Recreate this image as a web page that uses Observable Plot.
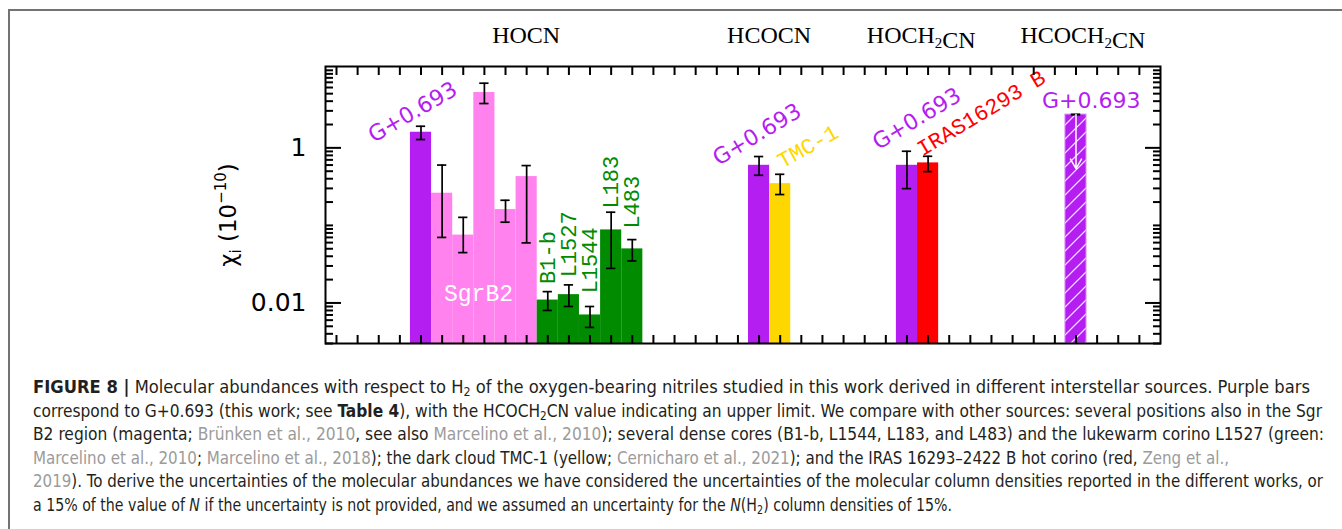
<!DOCTYPE html>
<html><head><meta charset="utf-8">
<script src="https://cdn.jsdelivr.net/npm/d3@7"></script>
<script src="https://cdn.jsdelivr.net/npm/@observablehq/plot@0.6"></script>
<style>
body{margin:0;background:#fff;}
#wrap{position:relative;width:1342px;height:529px;overflow:hidden;background:#fff;}
#border{position:absolute;left:8px;top:9px;width:1400px;height:600px;border-top:2px solid #737373;border-left:2px solid #737373;}
#chart{position:absolute;left:0;top:0;}
#caption{position:absolute;left:33px;top:376px;font-family:"Liberation Sans Narrow","Arial Narrow","DejaVu Sans Condensed","Liberation Sans",sans-serif;font-size:17px;line-height:23.5px;color:#231f20;white-space:nowrap;}
#caption .ln{display:inline-block;transform-origin:0 50%;}
#caption sub{font-size:0.68em;vertical-align:-0.22em;line-height:0;}
.ref{color:#9b9b9b;}
</style></head><body>
<div id="wrap"><div id="border"></div><div id="chart"></div>
<div id="caption">
<div><span class="ln"><b>FIGURE 8 |</b> Molecular abundances with respect to H<sub>2</sub> of the oxygen-bearing nitriles studied in this work derived in different interstellar sources. Purple bars</span></div>
<div><span class="ln">correspond to G+0.693 (this work; see <b>Table 4</b>), with the HCOCH<sub>2</sub>CN value indicating an upper limit. We compare with other sources: several positions also in the Sgr</span></div>
<div><span class="ln">B2 region (magenta; <span class="ref">Brünken et al., 2010</span>, see also <span class="ref">Marcelino et al., 2010</span>); several dense cores (B1-b, L1544, L183, and L483) and the lukewarm corino L1527 (green:</span></div>
<div><span class="ln"><span class="ref">Marcelino et al., 2010</span>; <span class="ref">Marcelino et al., 2018</span>); the dark cloud TMC-1 (yellow; <span class="ref">Cernicharo et al., 2021</span>); and the IRAS 16293–2422 B hot corino (red, <span class="ref">Zeng et al.,</span></span></div>
<div><span class="ln"><span class="ref">2019</span>). To derive the uncertainties of the molecular abundances we have considered the uncertainties of the molecular column densities reported in the different works, or</span></div>
<div><span class="ln">a 15% of the value of <i>N</i> if the uncertainty is not provided, and we assumed an uncertainty for the <i>N</i>(H<sub>2</sub>) column densities of 15%.</span></div>
</div>
</div>
<script>
// ---------------- data ----------------
const slots     = [4, 5, 6, 7, 8, 9, 10, 11, 12, 13, 14, 20, 21, 27, 28, 35];
const sources   = ["G+0.693","SgrB2","SgrB2","SgrB2","SgrB2","SgrB2","B1-b","L1527","L1544","L183","L483","G+0.693","TMC-1","G+0.693","IRAS16293 B","G+0.693"];
const groups    = ["G","S","S","S","S","S","D","D","D","D","D","G","T","G","I","G"];
const molecules = ["HOCN","HOCN","HOCN","HOCN","HOCN","HOCN","HOCN","HOCN","HOCN","HOCN","HOCN","HCOCN","HCOCN","HOCH2CN","HOCH2CN","HCOCH2CN"];
const values    = [1.59, 0.26, 0.075, 5.17, 0.160, 0.426, 0.0109, 0.0128, 0.0070, 0.0875, 0.0498, 0.596, 0.346, 0.596, 0.640, 2.69];
const errLow    = [1.28, 0.070, 0.0446, 3.73, 0.110, 0.0595, 0.0080, 0.0090, 0.00484, 0.0279, 0.0348, 0.443, 0.250, 0.298, 0.494, 2.69];
const errHigh   = [1.90, 0.60, 0.127, 6.82, 0.211, 0.591, 0.0140, 0.0171, 0.0090, 0.148, 0.0656, 0.773, 0.456, 0.904, 0.779, 2.69];
const upperLimit= [false,false,false,false,false,false,false,false,false,false,false,false,false,false,false,true];
const limitArrowTo = 0.54;

// category titles (molecule names, at their group centre slot)
const titleNames = ["HOCN","HCOCN","HOCH2CN","HCOCH2CN"];
const titleSlots = [9, 20.5, 27.7, 35.35];

// source annotations (text, slot, value where the label sits)
const labelTexts  = ["G+0.693","SgrB2","B1-b","L1527","L1544","L183","L483","G+0.693","TMC-1","G+0.693","IRAS16293 B","G+0.693"];
const labelSlots  = [3.61, 6.72, 10, 11, 12, 13, 14, 19.91, 22.31, 27.47, 30.51, 35.72];
const labelValues = [2.88, 0.0132, 0.0176, 0.0214, 0.0133, 0.165, 0.091, 1.48, 1.04, 2.36, 2.81, 4.08];
const labelGroups = ["G","W","D","D","D","D","D","G","T","G","I","G"];
const labelAngles = [-30, 0, -90, -90, -90, -90, -90, -31, -29, -31, -31, 0];

const yTickMajor = [0.01, 1];
const yTickLabels = ["0.01", "1"];

// ---------------- build ----------------
const colorOf = {G:"#b41ef0", S:"#ff82ee", D:"#008b00", T:"#ffd700", I:"#ff0000", W:"#ffffff"};
const yMin = 0.003, yMax = 11.2;

const rows = slots.map((s,i)=>({slot:s, source:sources[i], group:groups[i], molecule:molecules[i],
  value:values[i], lo:errLow[i], hi:errHigh[i], upper:upperLimit[i]}));
const solid = rows.filter(d=>!d.upper);
const upper = rows.filter(d=>d.upper);
const labels = labelTexts.map((t,i)=>({text:t, slot:labelSlots[i], value:labelValues[i], group:labelGroups[i], angle:labelAngles[i]}));

const yMinor = [];
for (let k=-3;k<=1;k++) for (let m=1;m<=9;m++){ const v=m*Math.pow(10,k); if (v>=yMin && v<=yMax && !yTickMajor.some(t=>Math.abs(t-v)<1e-9)) yMinor.push(v); }
const xTicks = d3.range(0, 39);

function titlesMark(index, scales, values, dims) {
  const g = d3.create("svg:g").attr("font-family","'Liberation Serif','Times New Roman',serif")
    .attr("font-size",24).attr("text-anchor","middle").attr("fill","black");
  titleNames.forEach((name,i)=>{
    const t = g.append("text").attr("x", scales.x(titleSlots[i])).attr("y", dims.marginTop - 22.7);
    const parts = name.split(/(\d)/).filter(p=>p.length);
    parts.forEach(p=>{
      if (/^\d$/.test(p)) { t.append("tspan").attr("font-size",15).attr("dy",5).text(p); t.append("tspan").attr("dy",-5).text(""); }
      else t.append("tspan").text(p);
    });
  });
  return g.node();
}
function yLabelMark(index, scales, values, dims) {
  const cx = dims.marginLeft - 97;
  const cy = (dims.marginTop + dims.height - dims.marginBottom)/2 + 10.5;
  const t = d3.create("svg:text").attr("transform",`translate(${cx},${cy}) rotate(-90)`)
    .attr("text-anchor","middle").attr("dy","0.35em").attr("font-family","'DejaVu Sans',sans-serif").attr("font-size",23).attr("fill","black");
  t.append("tspan").text("χ");
  t.append("tspan").attr("font-size",15).attr("dy",5).text("i");
  t.append("tspan").attr("dy",-5).text(" (10");
  t.append("tspan").attr("font-size",15).attr("dy",-10).text("−10");
  t.append("tspan").attr("dy",10).text(")");
  return t.node();
}

const axisCommon = {label:null, strokeWidth:2, tickFormat:()=>""};
const svg = Plot.plot({
  width:1342, height:360, marginLeft:325, marginRight:182, marginTop:66, marginBottom:17,
  style:{background:"transparent", overflow:"visible"},
  x:{domain:[-0.52, 39]},
  y:{type:"log", domain:[yMin, yMax]},
  color:{type:"identity"},
  marks:[
    Plot.rectY(solid, {x1:d=>d.slot-0.5, x2:d=>d.slot+0.5, y1:()=>yMin, y2:"value", fill:d=>colorOf[d.group]}),
    Plot.rectY(upper, {x1:d=>d.slot-0.5, x2:d=>d.slot+0.5, y1:()=>yMin, y2:"value", fill:d=>colorOf[d.group], stroke:"#dc96f7", strokeWidth:1, className:"hatched"}),
    Plot.ruleX(solid, {x:"slot", y1:"lo", y2:"hi", stroke:"black", strokeWidth:1.7}),
    Plot.ruleY(rows, {y:"lo", x1:d=>d.slot-0.22, x2:d=>d.slot+0.22, stroke:"black", strokeWidth:1.7}),
    Plot.ruleY(rows, {y:"hi", x1:d=>d.slot-0.22, x2:d=>d.slot+0.22, stroke:"black", strokeWidth:1.7}),
    Plot.arrow(upper, {x1:"slot", x2:"slot", y1:"value", y2:()=>limitArrowTo, stroke:"white", strokeWidth:1.5, headLength:11, headAngle:60}),
    // labels
    Plot.text(labels.filter(d=>d.group==="G"), {x:"slot", y:"value", text:"text", rotate:"angle", fill:d=>colorOf[d.group],
      fontFamily:"DejaVu Sans", fontSize:22, textAnchor:"middle", lineAnchor:"middle"}),
    Plot.text(labels.filter(d=>d.group==="T"||d.group==="I"), {x:"slot", y:"value", text:"text", rotate:"angle", fill:d=>colorOf[d.group],
      fontFamily:"Liberation Mono", fontSize:22, textAnchor:"middle", lineAnchor:"middle"}),
    Plot.text(labels.filter(d=>d.group==="D"), {x:"slot", y:"value", text:"text", rotate:"angle", fill:d=>colorOf[d.group],
      fontFamily:"Liberation Mono", fontSize:22, textAnchor:"start", lineAnchor:"middle"}),
    Plot.text(labels.filter(d=>d.group==="W"), {x:"slot", y:"value", text:"text", fill:"white",
      fontFamily:"Liberation Mono", fontSize:23, textAnchor:"middle", lineAnchor:"middle"}),
    titlesMark,
    yLabelMark,
    // axes (ticks inward on all sides)
    Plot.axisY({anchor:"left", ticks:yTickMajor, tickSize:-16, tickPadding:35, label:null, strokeWidth:2,
      tickFormat:d=>yTickLabels[yTickMajor.indexOf(d)], fontSize:25, fontFamily:"DejaVu Sans"}),
    Plot.axisY({anchor:"left", ticks:yMinor, tickSize:-8, ...axisCommon}),
    Plot.axisY({anchor:"right", ticks:yTickMajor, tickSize:-16, ...axisCommon}),
    Plot.axisY({anchor:"right", ticks:yMinor, tickSize:-8, ...axisCommon}),
    Plot.axisX({anchor:"bottom", ticks:xTicks, tickSize:-8, ...axisCommon}),
    Plot.axisX({anchor:"top", ticks:xTicks, tickSize:-8, ...axisCommon}),
    Plot.frame({stroke:"black", strokeWidth:2})
  ]
});

// hatch pattern for the upper-limit bar
const defs = d3.select(svg).insert("defs", ":first-child");
const pat = defs.append("pattern").attr("id","hatch").attr("patternUnits","userSpaceOnUse").attr("width",14).attr("height",14);
pat.append("rect").attr("width",14).attr("height",14).attr("fill",colorOf.G);
pat.append("path").attr("d","M-1,15 L15,-1 M-4,4 L4,-4 M10,18 L18,10").attr("stroke","white").attr("stroke-width",1.2);
d3.select(svg).selectAll(".hatched rect").attr("fill","url(#hatch)");

document.getElementById("chart").appendChild(svg);

// fit caption lines to the reference widths
const lineWidths = [1277, 1289, 1291, 1196, 1290, 919];
function fit(){
  document.querySelectorAll("#caption .ln").forEach((el,i)=>{
    el.style.transform = "none";
    const w = el.getBoundingClientRect().width;
    if (w>0) el.style.transform = `scaleX(${lineWidths[i]/w})`;
  });
}
fit();
if (document.fonts && document.fonts.ready) document.fonts.ready.then(fit);
</script>
</body></html>
